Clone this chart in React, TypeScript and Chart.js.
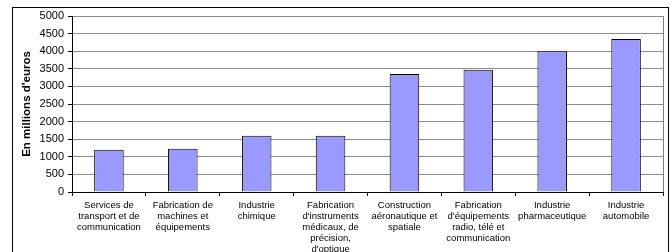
import React, { useEffect, useRef } from "react";
import { Chart, registerables } from "chart.js";

Chart.register(...registerables);

const categories: string[][] = [
  ["Services de", "transport et de", "communication"],
  ["Fabrication de", "machines et", "équipements"],
  ["Industrie", "chimique"],
  ["Fabrication", "d'instruments", "médicaux, de", "précision,", "d'optique"],
  ["Construction", "aéronautique et", "spatiale"],
  ["Fabrication", "d'équipements", "radio, télé et", "communication"],
  ["Industrie", "pharmaceutique"],
  ["Industrie", "automobile"],
];

const values: number[] = [1200, 1230, 1600, 1600, 3350, 3470, 4000, 4350];

const yTitle = "En millions d'euros";
const yMin = 0;
const yMax = 5000;
const yStep = 500;

const FONT = "'Liberation Sans', Arial, sans-serif";

const framePlugin = {
  id: "frame",
  beforeDraw(chart: any) {
    const { ctx } = chart;
    ctx.save();
    ctx.fillStyle = "#ffffff";
    ctx.fillRect(0, 0, chart.width, chart.height);
    ctx.strokeStyle = "#000000";
    ctx.lineWidth = 1;
    ctx.strokeRect(12.5, 7.5, 656, 260);
    ctx.restore();
  },
  afterDatasetsDraw(chart: any) {
    const { ctx, chartArea } = chart;
    ctx.save();
    ctx.strokeStyle = "#808080";
    ctx.lineWidth = 1;
    ctx.beginPath();
    const x = Math.round(chartArea.right) + 0.5;
    ctx.moveTo(x, chartArea.top);
    ctx.lineTo(x, chartArea.bottom);
    ctx.stroke();
    ctx.restore();
  },
};

export default function App() {
  const ref = useRef<HTMLCanvasElement | null>(null);

  useEffect(() => {
    if (!ref.current) return;
    const chart = new Chart(ref.current, {
      type: "bar",
      data: {
        labels: categories,
        datasets: [
          {
            data: values,
            backgroundColor: "#9999FF",
            borderColor: "#000000",
            borderWidth: 1,
            barPercentage: 0.4,
            categoryPercentage: 1,
          },
        ],
      },
      options: {
        responsive: false,
        animation: false,
        devicePixelRatio: 1,
        layout: { padding: { left: 0, right: 9, top: 16, bottom: 0 } },
        plugins: {
          legend: { display: false },
          tooltip: { enabled: false },
        },
        scales: {
          x: {
            afterFit: (s: any) => {
              s.height = 60;
            },
            grid: {
              offset: true,
              drawOnChartArea: false,
              drawTicks: true,
              tickLength: 4,
              color: "#000000",
            },
            border: { display: true, color: "#000000" },
            ticks: {
              color: "#000000",
              padding: 4,
              maxRotation: 0,
              autoSkip: false,
              font: { family: FONT, size: 9.5, lineHeight: 1.16 },
            },
          },
          y: {
            min: yMin,
            max: yMax,
            afterFit: (s: any) => {
              s.width = 72;
            },
            grid: {
              color: "#8c8c8c",
              tickColor: "#000000",
              tickLength: 4,
            },
            border: { display: true, color: "#000000" },
            ticks: {
              stepSize: yStep,
              color: "#000000",
              padding: 4,
              font: { family: FONT, size: 11 },
              callback: (v: any) => String(v),
            },
            title: {
              display: true,
              text: yTitle,
              color: "#000000",
              padding: { top: 20, bottom: 0 },
              font: { family: FONT, size: 11.5, weight: "bold" },
            },
          },
        },
      },
      plugins: [framePlugin],
    });
    return () => chart.destroy();
  }, []);

  return (
    <div style={{ position: "absolute", left: 0, top: 0, width: 672, height: 252 }}>
      <canvas ref={ref} width={672} height={252} style={{ width: 672, height: 252 }} />
    </div>
  );
}
